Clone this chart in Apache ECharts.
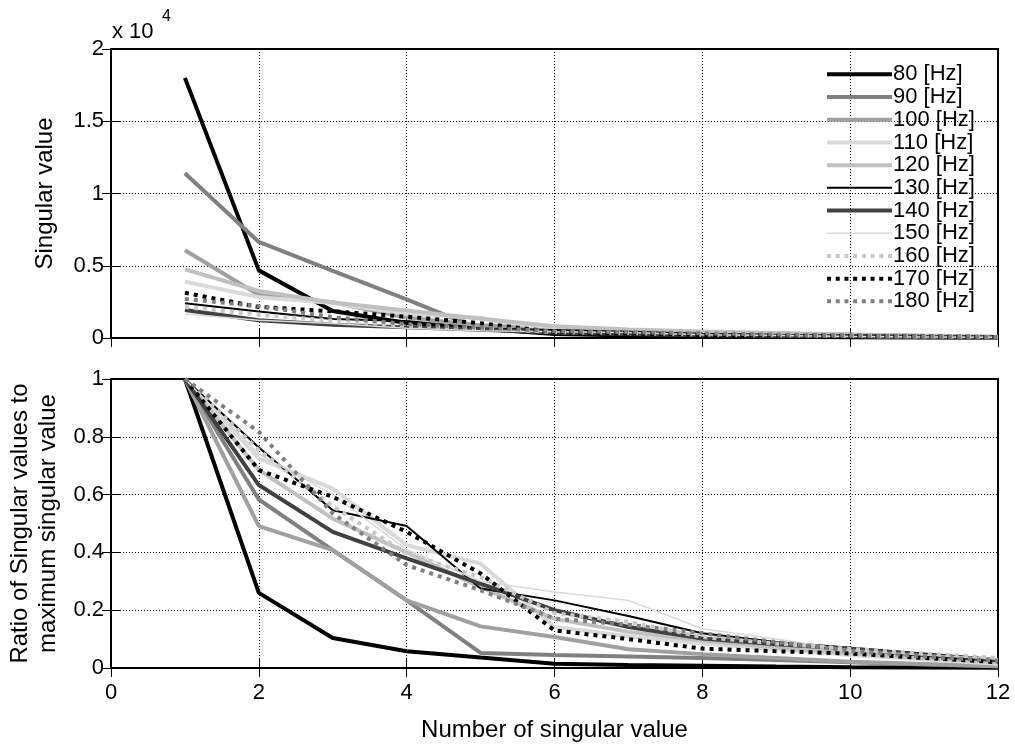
<!DOCTYPE html>
<html>
<head>
    <meta charset="UTF-8">
    <title>Singular values</title>
    <style>
        html, body { margin: 0; padding: 0; background: #fff; }
        #chart { width: 1015px; height: 747px; }
    </style>
</head>
<body>
    <div id="chart"></div>
    <script src="https://cdn.jsdelivr.net/npm/echarts@6/dist/echarts.min.js"></script>
    <script>
        // number of singular value
        var xValues = [1, 2, 3, 4, 5, 6, 7, 8, 9, 10, 11, 12];
        var legendNames = ['80 [Hz]', '90 [Hz]', '100 [Hz]', '110 [Hz]', '120 [Hz]', '130 [Hz]',
                           '140 [Hz]', '150 [Hz]', '160 [Hz]', '170 [Hz]', '180 [Hz]'];
        // largest singular value of each frequency, in units of 10^4
        var maxSingular = [1.80, 1.14, 0.607, 0.39, 0.475, 0.24, 0.194, 0.166, 0.214, 0.313, 0.27];

        // ratio of singular values to the maximum one
        var ratio80  = [1, 0.260, 0.104, 0.058, 0.036, 0.015, 0.010, 0.008, 0.005, 0.003, 0.002, 0.001];
        var ratio90  = [1, 0.583, 0.408, 0.234, 0.052, 0.045, 0.040, 0.035, 0.028, 0.020, 0.012, 0.006];
        var ratio100 = [1, 0.491, 0.408, 0.234, 0.144, 0.107, 0.065, 0.048, 0.035, 0.022, 0.014, 0.006];
        var ratio110 = [1, 0.725, 0.621, 0.425, 0.361, 0.142, 0.110, 0.085, 0.065, 0.045, 0.030, 0.015];
        var ratio120 = [1, 0.685, 0.517, 0.400, 0.280, 0.170, 0.125, 0.095, 0.072, 0.050, 0.035, 0.020];
        var ratio130 = [1, 0.763, 0.546, 0.491, 0.275, 0.234, 0.180, 0.120, 0.090, 0.070, 0.050, 0.030];
        var ratio140 = [1, 0.633, 0.471, 0.379, 0.292, 0.200, 0.142, 0.102, 0.082, 0.067, 0.045, 0.027];
        var ratio150 = [1, 0.740, 0.600, 0.410, 0.300, 0.263, 0.234, 0.136, 0.100, 0.061, 0.045, 0.032];
        var ratio160 = [1, 0.754, 0.560, 0.396, 0.315, 0.190, 0.160, 0.107, 0.085, 0.066, 0.050, 0.035];
        var ratio170 = [1, 0.685, 0.592, 0.471, 0.327, 0.130, 0.100, 0.067, 0.058, 0.050, 0.035, 0.020];
        var ratio180 = [1, 0.817, 0.535, 0.356, 0.269, 0.171, 0.150, 0.120, 0.090, 0.060, 0.040, 0.025];
        var ratios = [ratio80, ratio90, ratio100, ratio110, ratio120, ratio130,
                      ratio140, ratio150, ratio160, ratio170, ratio180];

        var topTicks = [0, 0.5, 1, 1.5, 2];
        var bottomTicks = [0, 0.2, 0.4, 0.6, 0.8, 1];

        // line look of every frequency
        var styles = [
            {color: '#000000', width: 4, type: 'solid'},
            {color: '#808080', width: 4, type: 'solid'},
            {color: '#a0a0a0', width: 4, type: 'solid'},
            {color: '#d9d9d9', width: 4, type: 'solid'},
            {color: '#c0c0c0', width: 4, type: 'solid'},
            {color: '#000000', width: 2, type: 'solid'},
            {color: '#404040', width: 4, type: 'solid'},
            {color: '#d9d9d9', width: 1.5, type: 'solid'},
            {color: '#c8c8c8', width: 4, type: [4, 5]},
            {color: '#000000', width: 4, type: [4, 5]},
            {color: '#808080', width: 4, type: [4, 5]}
        ];

        var font = 'Liberation Sans, Arial, sans-serif';
        var GL = 111, GW = 887, TT = 49, TH = 289, BT = 379, BH = 289;

        // legend icons: a 65 px stroke, solid or made of small squares
        function legendIcon(st) {
            if (st.type === 'solid') {
                return 'path://M0,0L65,0L65,' + st.width + 'L0,' + st.width + 'Z';
            }
            var p = '';
            for (var k = 0; k < 8; k++) {
                var a = (k * 8.7).toFixed(1), b = (k * 8.7 + 4).toFixed(1);
                p += 'M' + a + ',0L' + b + ',0L' + b + ',4L' + a + ',4Z';
            }
            return 'path://' + p;
        }

        function xAxisFor(grid, pos, labels) {
            return {
                type: 'value', gridIndex: grid, position: pos, min: 0, max: 12, interval: 2,
                axisLine: {show: false},
                axisTick: {show: true, inside: true, length: 9, lineStyle: {color: '#000', width: 1}},
                axisLabel: {show: labels, fontSize: 22, fontFamily: font, color: '#000', margin: 14},
                splitLine: {show: pos === 'bottom', lineStyle: {color: '#000', type: [1, 2], width: 1}}
            };
        }
        function yAxisFor(grid, pos, max, interval, labels) {
            return {
                type: 'value', gridIndex: grid, position: pos, min: 0, max: max, interval: interval,
                axisLine: {show: false},
                axisTick: {show: true, inside: true, length: 9, lineStyle: {color: '#000', width: 1}},
                axisLabel: {show: labels, fontSize: 22, fontFamily: font, color: '#000', margin: 7},
                splitLine: {show: pos === 'left', lineStyle: {color: '#000', type: [1, 2], width: 1}}
            };
        }

        var xAxes = [xAxisFor(0, 'bottom', false), xAxisFor(0, 'top', false),
                     xAxisFor(1, 'bottom', true), xAxisFor(1, 'top', false)];
        xAxes[2].name = 'Number of singular value';
        xAxes[2].nameLocation = 'middle';
        xAxes[2].nameGap = 50;
        xAxes[2].nameTextStyle = {fontSize: 24, fontFamily: font, color: '#000'};

        var yAxes = [yAxisFor(0, 'left', topTicks[topTicks.length - 1], 0.5, true),
                     yAxisFor(0, 'right', topTicks[topTicks.length - 1], 0.5, false),
                     yAxisFor(1, 'left', bottomTicks[bottomTicks.length - 1], 0.2, true),
                     yAxisFor(1, 'right', bottomTicks[bottomTicks.length - 1], 0.2, false)];
        yAxes[0].axisLabel.formatter = function (v) { return String(v); };
        yAxes[0].name = 'Singular value';
        yAxes[0].nameLocation = 'middle';
        yAxes[0].nameGap = 54;
        yAxes[0].nameTextStyle = {fontSize: 24, fontFamily: font, color: '#000'};
        yAxes[2].name = 'Ratio of Singular values to\nmaximum singular value';
        yAxes[2].nameLocation = 'middle';
        yAxes[2].nameGap = 40;
        yAxes[2].nameTextStyle = {fontSize: 24, fontFamily: font, color: '#000', lineHeight: 28};

        var series = [];
        legendNames.forEach(function (name, i) {
            var st = styles[i];
            series.push({
                name: name, type: 'line', xAxisIndex: 0, yAxisIndex: 0,
                showSymbol: false, symbol: 'none', animation: false,
                lineStyle: {color: st.color, width: st.width, type: st.type, cap: 'butt'},
                itemStyle: {color: st.color},
                data: xValues.map(function (x, k) { return [x, ratios[i][k] * maxSingular[i]]; })
            });
        });
        legendNames.forEach(function (name, i) {
            var st = styles[i];
            series.push({
                name: name, type: 'line', xAxisIndex: 2, yAxisIndex: 2,
                showSymbol: false, symbol: 'none', animation: false,
                lineStyle: {color: st.color, width: st.width, type: st.type, cap: 'butt'},
                itemStyle: {color: st.color},
                data: xValues.map(function (x, k) { return [x, ratios[i][k]]; })
            });
        });

        var legendData = legendNames.map(function (name, i) {
            return {name: name, icon: legendIcon(styles[i]),
                    itemStyle: {color: styles[i].color, borderWidth: 0}};
        });

        var option = {
            backgroundColor: '#fff',
            animation: false,
            grid: [
                {left: GL, top: TT, width: GW, height: TH, show: true, borderColor: '#000', borderWidth: 2,
                 backgroundColor: 'transparent', outerBoundsMode: 'none'},
                {left: GL, top: BT, width: GW, height: BH, show: true, borderColor: '#000', borderWidth: 2,
                 backgroundColor: 'transparent', outerBoundsMode: 'none'}
            ],
            xAxis: xAxes,
            yAxis: yAxes,
            legend: {
                data: legendData,
                orient: 'vertical',
                left: 822, top: 58,
                itemWidth: 65, itemHeight: 4, itemGap: 0,
                inactiveColor: '#ccc',
                textStyle: {fontSize: 22, fontFamily: font, color: '#000', lineHeight: 22.7, padding: [0, 0, 0, -4]}
            },
            graphic: [
                {type: 'text', left: 112, top: 21, style: {text: 'x 10', fontSize: 22, fontFamily: font, fill: '#000'}},
                {type: 'text', left: 162, top: 9, style: {text: '4', fontSize: 16, fontFamily: font, fill: '#000'}}
            ],
            series: series
        };

        var chart = echarts.init(document.getElementById('chart'));
        chart.setOption(option);
    </script>
</body>
</html>
